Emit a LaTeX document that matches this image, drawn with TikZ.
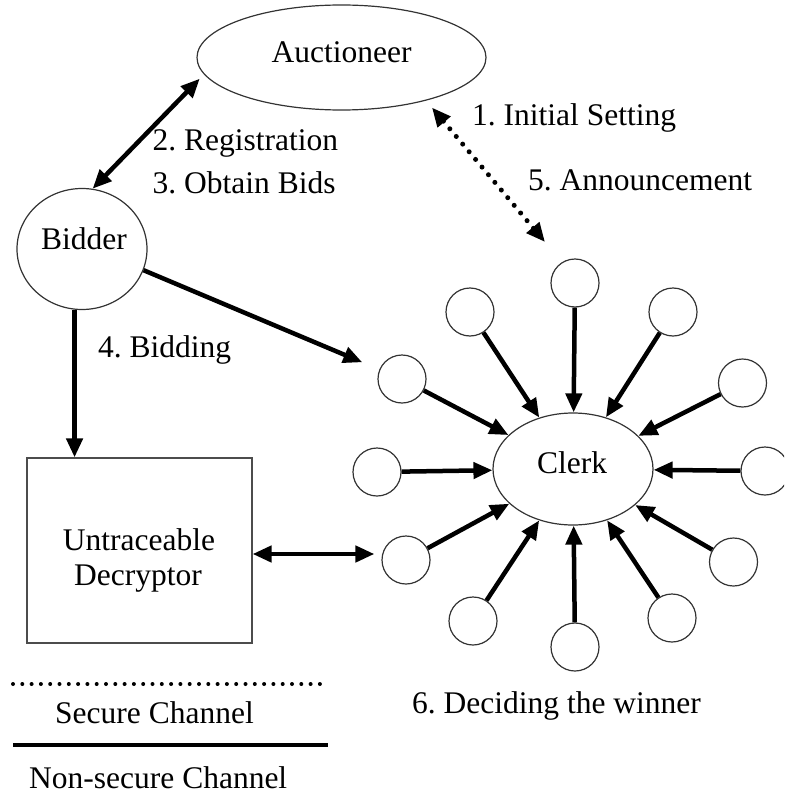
\documentclass[tikz,border=0pt]{standalone}
\usepackage{fontspec}
\setmainfont{Liberation Serif}
\usetikzlibrary{shapes.geometric,arrows.meta}
\frenchspacing
\begin{document}
\begin{tikzpicture}[x=1pt,y=-1pt,
  txt/.style={font=\fontsize{31.5}{36}\selectfont\frenchspacing, inner sep=0pt, text=black},
  shp/.style={draw=black!80, line width=1.2pt, inner sep=0pt},
  ell/.style={shp, ellipse},
  small/.style={shp, circle, minimum size=48pt},
  tip/.style={Triangle[length=19pt,width=16pt]},
  conn/.style={line width=4.5pt, -{Triangle[length=19pt,width=16pt]}},
  bconn/.style={line width=4.5pt, {Triangle[length=19pt,width=16pt]}-{Triangle[length=19pt,width=16pt]}},
  dotconn/.style={line width=5pt, line cap=round, dash pattern=on 0pt off 10pt,
     {Triangle[length=19pt,width=16pt]}-{Triangle[length=19pt,width=16pt]}}
]
\useasboundingbox (0,0) rectangle (784,797);
\clip (0,0) rectangle (784,797);

% main shapes
\node[ell, minimum width=289pt, minimum height=105pt] (auct) at (341.5,57.5) {};
\node[txt, anchor=base] (auctT) at (341.5,63) {Auctioneer};
\node[ell, minimum width=130pt, minimum height=121pt] (bidder) at (82,249) {};
\node[txt, anchor=base] (bidderT) at (84,249) {Bidder};
\node[shp, draw=black!70, minimum width=225pt, minimum height=185pt] (box) at (139.5,550.5) {};
\node[txt, anchor=base] (boxT1) at (139,550) {Untraceable};
\node[txt, anchor=base] (boxT2) at (138,585) {Decryptor};
\node[ell, minimum width=160pt, minimum height=112pt] (clerk) at (573,469) {};
\node[txt, anchor=base] (clerkT) at (572,473) {Clerk};

% small circles around the clerk
\node[small] (c1) at (575,283) {};
\node[small] (c2) at (673,312) {};
\node[small] (c3) at (742.5,383) {};
\node[small] (c4) at (765,471) {};
\node[small] (c5) at (733.5,562) {};
\node[small] (c6) at (672,618) {};
\node[small] (c7) at (575,647) {};
\node[small] (c8) at (473,621) {};
\node[small] (c9) at (406,560) {};
\node[small] (c10) at (377,472) {};
\node[small] (c11) at (402,379) {};
\node[small] (c12) at (470,312) {};

\foreach \i in {1,...,12} { \draw[conn] (c\i) -- (clerk); }

% connectors
\draw[bconn, shorten >=6pt] (bidder.80) -- (auct.187);
\coordinate (annc) at (545,242);
\draw[dotconn, shorten <=9pt] (auct.-27.4) -- (annc);
\draw[conn] (bidder.263) -- (bidder.263 |- box.north);
\draw[conn, shorten >=18.5pt] (bidder.-19) -- (c11);
\draw[bconn, shorten >=7pt] ([yshift=-3.5pt]box.east) -- ([yshift=-3.5pt]box.east -| c9.west);

% labels
\node[txt, anchor=base west] (l1) at (472,125) {1. Initial Setting};
\node[txt, anchor=base west] (l2) at (152.5,150) {2. Registration};
\node[txt, anchor=base west] (l3) at (152.5,193) {3. Obtain Bids};
\node[txt, anchor=base west] (l5) at (528,190) {5. Announcement};
\node[txt, anchor=base west] (l4) at (98,357) {4. Bidding};
\node[txt, anchor=base west] (l6) at (412,713) {6. Deciding the winner};

% legend
\draw[line width=4pt, line cap=round, dash pattern=on 0pt off 9.3pt] (13,684) -- (320,684);
\node[txt, anchor=base west] (sec) at (55,723) {Secure Channel};
\draw[line width=4.5pt] (13,745) -- (328,745);
\node[txt, anchor=base west] (nsec) at (29,788) {Non-secure Channel};
\end{tikzpicture}
\end{document}
